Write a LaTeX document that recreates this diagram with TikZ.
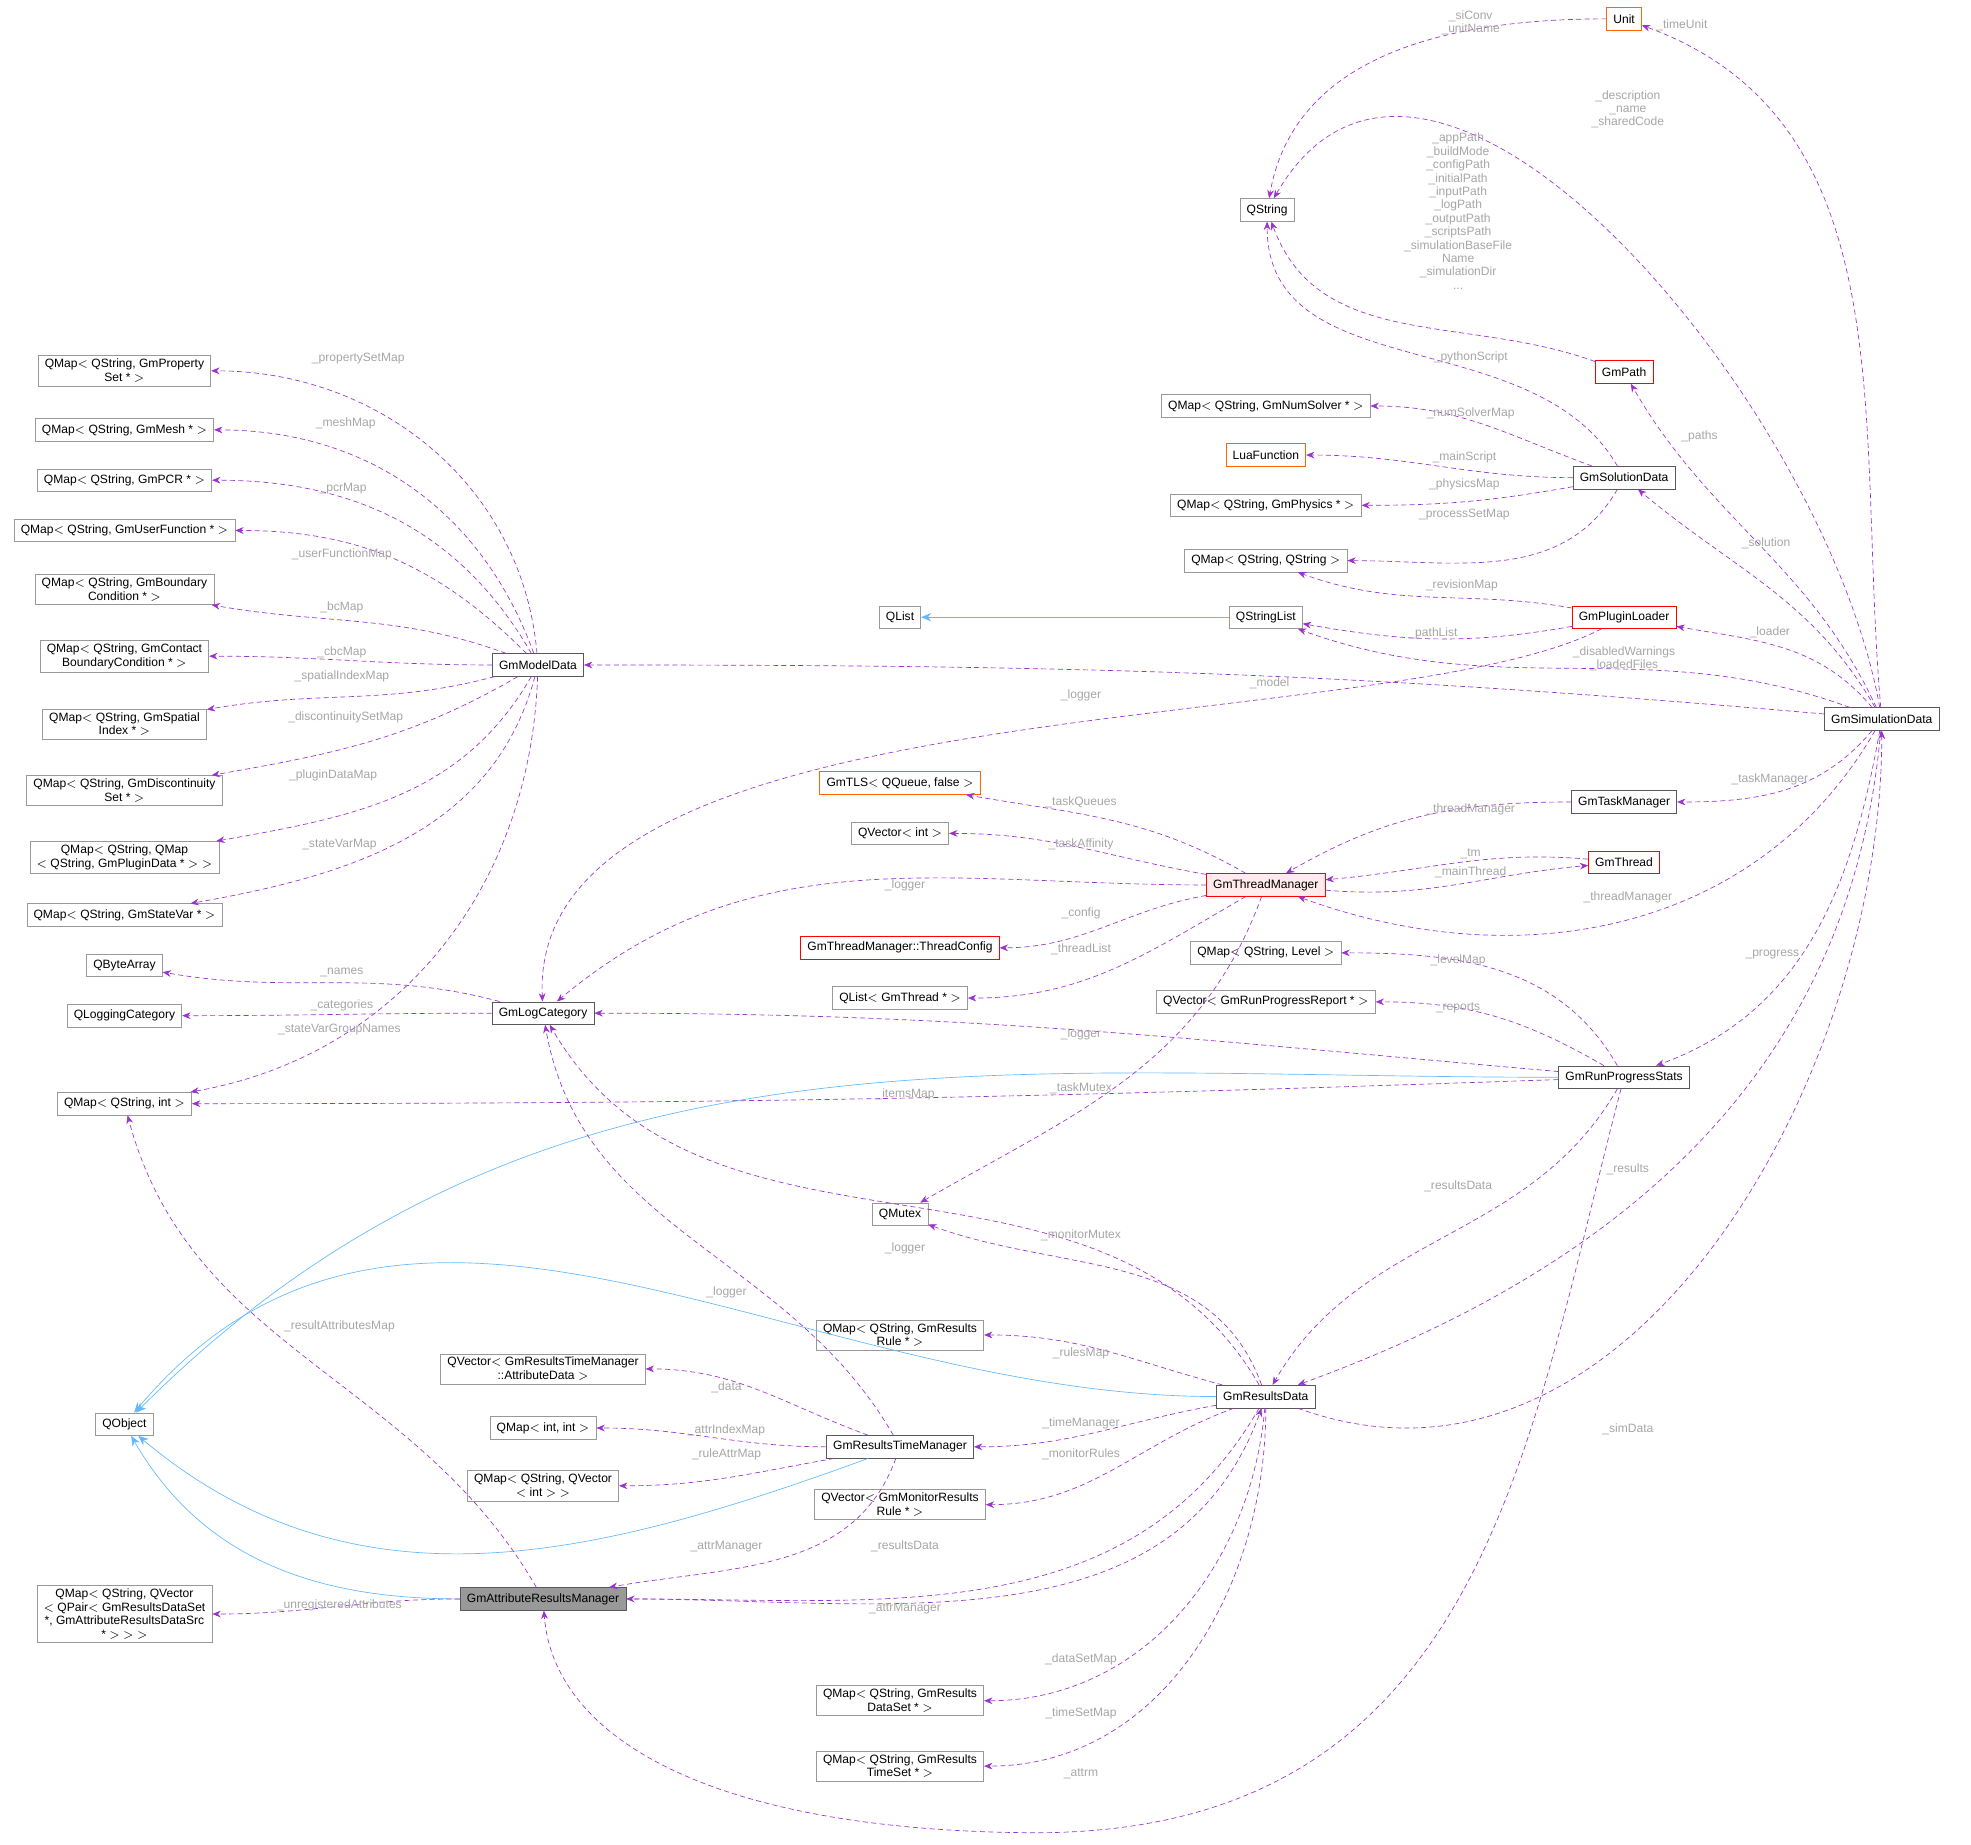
\documentclass[tikz,border=0pt]{standalone}
\usepackage{fontspec}
\setmainfont{Liberation Sans}
\usetikzlibrary{arrows.meta}
\definecolor{depcol}{HTML}{9A32CD}
\definecolor{inhcol}{HTML}{63B8FF}
\tikzset{
  box/.style={draw=black!40, fill=white, font=\fontsize{7.2}{8.2}\selectfont,
    minimum height=13.5pt, inner xsep=4pt, inner ysep=2pt, align=center},
  cls/.style={box, draw=black!65},
  redbox/.style={box, draw=red},
  orbox/.style={box, draw=orange!80!red},
  dep/.style={densely dashed, depcol, -{Stealth[length=5pt,width=4pt]}},
  inh/.style={inhcol, -{Stealth[length=6pt,width=5pt]}},
  lbl/.style={font=\fontsize{7.2}{8}\selectfont, text=black!35, align=center, inner sep=1pt}
}
\begin{document}
\begin{tikzpicture}[x=0.75pt,y=-0.75pt]
\useasboundingbox (0,0) rectangle (1568,1467);
% right side
\node[orbox] (unit) at (1292,15) {Unit};
\node[box] (qstring) at (1008,167) {QString};
\node[redbox] (gmpath) at (1292,296) {GmPath};
\node[box] (numsolver) at (1007,323) {QMap$<$ QString, GmNumSolver * $>$};
\node[orbox] (luafn) at (1007,362) {LuaFunction};
\node[cls] (solution) at (1292,380) {GmSolutionData};
\node[box] (physics) at (1007,402) {QMap$<$ QString, GmPhysics * $>$};
\node[box] (strmap) at (1007,446) {QMap$<$ QString, QString $>$};
\node[box] (qlist) at (716,491) {QList};
\node[box] (strlist) at (1007,491) {QStringList};
\node[redbox] (plugin) at (1292,491) {GmPluginLoader};
\node[cls] (simdata) at (1497,572) {GmSimulationData};
\node[orbox] (tls) at (716,623) {GmTLS$<$ QQueue, false $>$};
\node[cls] (taskmgr) at (1292,638) {GmTaskManager};
\node[box] (qvecint) at (716,663) {QVector$<$ int $>$};
\node[redbox] (thread) at (1292,686) {GmThread};
\node[redbox, fill=red!8] (threadmgr) at (1007,704) {GmThreadManager};
\node[redbox] (tconfig) at (716,754) {GmThreadManager::ThreadConfig};
\node[box] (levelmap) at (1007,758) {QMap$<$ QString, Level $>$};
\node[box] (threadlist) at (716,794) {QList$<$ GmThread * $>$};
\node[box] (reports) at (1007,797) {QVector$<$ GmRunProgressReport * $>$};
\node[cls] (progress) at (1292,857) {GmRunProgressStats};
\node[box] (mutex) at (716,966) {QMutex};
\node[box] (rules) at (716,1062) {QMap$<$ QString, GmResults\\Rule * $>$};
\node[cls] (results) at (1007,1111) {GmResultsData};
\node[cls] (timemgr) at (716,1151) {GmResultsTimeManager};
\node[box] (monrules) at (716,1197) {QVector$<$ GmMonitorResults\\Rule * $>$};
\node[box] (dataset) at (716,1353) {QMap$<$ QString, GmResults\\DataSet * $>$};
\node[box] (timeset) at (716,1405) {QMap$<$ QString, GmResults\\TimeSet * $>$};
% middle and left
\node[cls] (model) at (428,529) {GmModelData};
\node[cls] (logcat) at (432,806) {GmLogCategory};
\node[box] (attrdata) at (432,1089) {QVector$<$ GmResultsTimeManager\\::AttributeData $>$};
\node[box] (intmap) at (432,1136) {QMap$<$ int, int $>$};
\node[box] (vecmap) at (432,1182) {QMap$<$ QString, QVector\\$<$ int $>$ $>$};
\node[cls, fill=black!40] (attrmgr) at (432,1272) {GmAttributeResultsManager};
\node[box] (propset) at (99,295) {QMap$<$ QString, GmProperty\\Set * $>$};
\node[box] (mesh) at (99,342) {QMap$<$ QString, GmMesh * $>$};
\node[box] (pcr) at (99,382) {QMap$<$ QString, GmPCR * $>$};
\node[box] (userfn) at (99,422) {QMap$<$ QString, GmUserFunction * $>$};
\node[box] (boundary) at (99,469) {QMap$<$ QString, GmBoundary\\Condition * $>$};
\node[box] (contact) at (99,522) {QMap$<$ QString, GmContact\\BoundaryCondition * $>$};
\node[box] (spatial) at (99,576) {QMap$<$ QString, GmSpatial\\Index * $>$};
\node[box] (discont) at (99,629) {QMap$<$ QString, GmDiscontinuity\\Set * $>$};
\node[box] (plugdata) at (99,682) {QMap$<$ QString, QMap\\$<$ QString, GmPluginData * $>$ $>$};
\node[box] (statevar) at (99,728) {QMap$<$ QString, GmStateVar * $>$};
\node[box] (bytearr) at (99,768) {QByteArray};
\node[box] (logging) at (99,808) {QLoggingCategory};
\node[box] (intmapq) at (99,878) {QMap$<$ QString, int $>$};
\node[box] (qobject) at (99,1133) {QObject};
\node[box] (pairmap) at (99,1284) {QMap$<$ QString, QVector\\$<$ QPair$<$ GmResultsDataSet\\ *, GmAttributeResultsDataSrc\\ * $>$ $>$ $>$};

% inheritance
\draw[inh] (strlist) -- (qlist);
\draw[inh] (progress) to[out=180,in=45] (qobject);
\draw[inh] (results) to[out=180,in=50] (qobject);
\draw[inh] (timemgr) to[out=200,in=-40] (qobject);
\draw[inh] (attrmgr) to[out=180,in=-60] (qobject);

% members
\draw[dep] (unit) to[out=180,in=80] (qstring);
\draw[dep] (gmpath) to[out=160,in=-70] (qstring);
\draw[dep] (simdata) to[out=95,in=-20] (unit);
\draw[dep] (simdata) to[out=100,in=60] (qstring);
\draw[dep] (solution) to[out=120,in=-90] (qstring);
\draw[dep] (simdata) to[out=115,in=-60] (gmpath);
\draw[dep] (solution) to[out=160,in=0] (numsolver);
\draw[dep] (solution) to[out=180,in=0] (luafn);
\draw[dep] (solution) to[out=190,in=0] (physics);
\draw[dep] (solution) to[out=-120,in=0] (strmap);
\draw[dep] (simdata) to[out=120,in=-40] (solution);
\draw[dep] (plugin) to[out=170,in=-20] (strmap);
\draw[dep] (plugin) to[out=190,in=-10] (strlist);
\draw[dep] (simdata) to[out=160,in=-20] (strlist);
\draw[dep] (simdata) to[out=130,in=-10] (plugin);
\draw[dep] (simdata) to[out=175,in=0] (model);
\draw[dep] (plugin) .. controls (1100,590) and (420,540) .. (logcat);
\draw[dep] (simdata) to[out=-130,in=0] (taskmgr);
\draw[dep] (taskmgr) to[out=180,in=30] (threadmgr);
\draw[dep] (thread) to[out=175,in=5] (threadmgr);
\draw[dep] (threadmgr) to[out=-5,in=185] (thread);
\draw[dep] (simdata) to[out=-120,in=-20] (threadmgr);
\draw[dep] (threadmgr) to[out=150,in=-10] (tls);
\draw[dep] (threadmgr) to[out=170,in=0] (qvecint);
\draw[dep] (threadmgr) to[out=180,in=40] (logcat);
\draw[dep] (threadmgr) to[out=190,in=0] (tconfig);
\draw[dep] (threadmgr) to[out=-150,in=0] (threadlist);
\draw[dep] (threadmgr) to[out=-110,in=30] (mutex);
\draw[dep] (simdata) to[out=-100,in=20] (progress);
\draw[dep] (progress) to[out=120,in=0] (levelmap);
\draw[dep] (progress) to[out=150,in=0] (reports);
\draw[dep] (progress) to[out=175,in=0] (logcat);
\draw[dep] (progress) to[out=182,in=0] (intmapq);
\draw[dep] (progress) to[out=-120,in=60] (results);
\draw[dep] (progress) .. controls (1215,1150) and (1180,1460) .. (820,1458)
  .. controls (560,1456) and (440,1380) .. (attrmgr);
\draw[dep] (simdata) to[out=-95,in=20] (results);
\draw[dep] (results) to[out=-20,in=-90] (simdata);
\draw[dep] (model) to[out=95,in=0] (propset);
\draw[dep] (model) to[out=110,in=0] (mesh);
\draw[dep] (model) to[out=120,in=0] (pcr);
\draw[dep] (model) to[out=135,in=0] (userfn);
\draw[dep] (model) to[out=160,in=-10] (boundary);
\draw[dep] (model) to[out=180,in=0] (contact);
\draw[dep] (model) to[out=195,in=10] (spatial);
\draw[dep] (model) to[out=-150,in=10] (discont);
\draw[dep] (model) to[out=-120,in=10] (plugdata);
\draw[dep] (model) to[out=-105,in=10] (statevar);
\draw[dep] (model) to[out=-92,in=10] (intmapq);
\draw[dep] (logcat) to[out=165,in=-10] (bytearr);
\draw[dep] (logcat) to[out=180,in=0] (logging);
\draw[dep] (attrmgr) to[out=120,in=-75] (intmapq);
\draw[dep] (attrmgr) to[out=180,in=0] (pairmap);
\draw[dep] (results) to[out=110,in=-20] (mutex);
\draw[dep] (results) to[out=120,in=-60] (logcat);
\draw[dep] (results) to[out=165,in=0] (rules);
\draw[dep] (results) to[out=190,in=0] (timemgr);
\draw[dep] (results) to[out=200,in=0] (monrules);
\draw[dep] (results) to[out=-120,in=0] (attrmgr);
\draw[dep] (attrmgr) to[out=0,in=-110] (results);
\draw[dep] (results) to[out=-95,in=0] (dataset);
\draw[dep] (results) to[out=-90,in=0] (timeset);
\draw[dep] (timemgr) to[out=120,in=-80] (logcat);
\draw[dep] (timemgr) to[out=160,in=0] (attrdata);
\draw[dep] (timemgr) to[out=180,in=0] (intmap);
\draw[dep] (timemgr) to[out=190,in=0] (vecmap);
\draw[dep] (timemgr) to[out=-110,in=10] (attrmgr);

% labels
\node[lbl] at (1170,18) {\_siConv\\\_unitName};
\node[lbl] at (1338,20) {\_timeUnit};
\node[lbl] at (1295,87) {\_description\\\_name\\\_sharedCode};
\node[lbl] at (1160,168) {\_appPath\\\_buildMode\\\_configPath\\\_initialPath\\\_inputPath\\\_logPath\\\_outputPath\\\_scriptsPath\\\_simulationBaseFile\\Name\\\_simulationDir\\...};
\node[lbl] at (1170,284) {\_pythonScript};
\node[lbl] at (1352,347) {\_paths};
\node[lbl] at (1170,329) {\_numSolverMap};
\node[lbl] at (1165,364) {\_mainScript};
\node[lbl] at (1165,385) {\_physicsMap};
\node[lbl] at (1165,409) {\_processSetMap};
\node[lbl] at (1405,432) {\_solution};
\node[lbl] at (1163,466) {\_revisionMap};
\node[lbl] at (1140,504) {\_pathList};
\node[lbl] at (1292,524) {\_disabledWarnings\\\_loadedFiles};
\node[lbl] at (1408,503) {\_loader};
\node[lbl] at (1010,544) {\_model};
\node[lbl] at (860,553) {\_logger};
\node[lbl] at (1408,620) {\_taskManager};
\node[lbl] at (1170,644) {\_threadManager};
\node[lbl] at (1170,679) {\_tm};
\node[lbl] at (1170,694) {\_mainThread};
\node[lbl] at (1295,714) {\_threadManager};
\node[lbl] at (860,638) {\_taskQueues};
\node[lbl] at (860,672) {\_taskAffinity};
\node[lbl] at (720,704) {\_logger};
\node[lbl] at (860,727) {\_config};
\node[lbl] at (860,755) {\_threadList};
\node[lbl] at (860,866) {\_taskMutex};
\node[lbl] at (1410,759) {\_progress};
\node[lbl] at (1160,764) {\_levelMap};
\node[lbl] at (1160,802) {\_reports};
\node[lbl] at (860,823) {\_logger};
\node[lbl] at (720,871) {\_itemsMap};
\node[lbl] at (1160,944) {\_resultsData};
\node[lbl] at (860,1411) {\_attrm};
\node[lbl] at (1295,930) {\_results};
\node[lbl] at (1295,1137) {\_simData};
\node[lbl] at (285,285) {\_propertySetMap};
\node[lbl] at (275,337) {\_meshMap};
\node[lbl] at (273,389) {\_pcrMap};
\node[lbl] at (272,441) {\_userFunctionMap};
\node[lbl] at (272,483) {\_bcMap};
\node[lbl] at (272,519) {\_cbcMap};
\node[lbl] at (272,538) {\_spatialIndexMap};
\node[lbl] at (275,571) {\_discontinuitySetMap};
\node[lbl] at (265,617) {\_pluginDataMap};
\node[lbl] at (270,672) {\_stateVarMap};
\node[lbl] at (270,819) {\_stateVarGroupNames};
\node[lbl] at (272,774) {\_names};
\node[lbl] at (272,800) {\_categories};
\node[lbl] at (270,1055) {\_resultAttributesMap};
\node[lbl] at (270,1277) {\_unregisteredAttributes};
\node[lbl] at (860,983) {\_monitorMutex};
\node[lbl] at (720,993) {\_logger};
\node[lbl] at (860,1077) {\_rulesMap};
\node[lbl] at (860,1132) {\_timeManager};
\node[lbl] at (860,1157) {\_monitorRules};
\node[lbl] at (720,1230) {\_resultsData};
\node[lbl] at (720,1280) {\_attrManager};
\node[lbl] at (860,1320) {\_dataSetMap};
\node[lbl] at (860,1363) {\_timeSetMap};
\node[lbl] at (578,1028) {\_logger};
\node[lbl] at (578,1104) {\_data};
\node[lbl] at (578,1138) {\_attrIndexMap};
\node[lbl] at (578,1157) {\_ruleAttrMap};
\node[lbl] at (578,1230) {\_attrManager};
\end{tikzpicture}
\end{document}
